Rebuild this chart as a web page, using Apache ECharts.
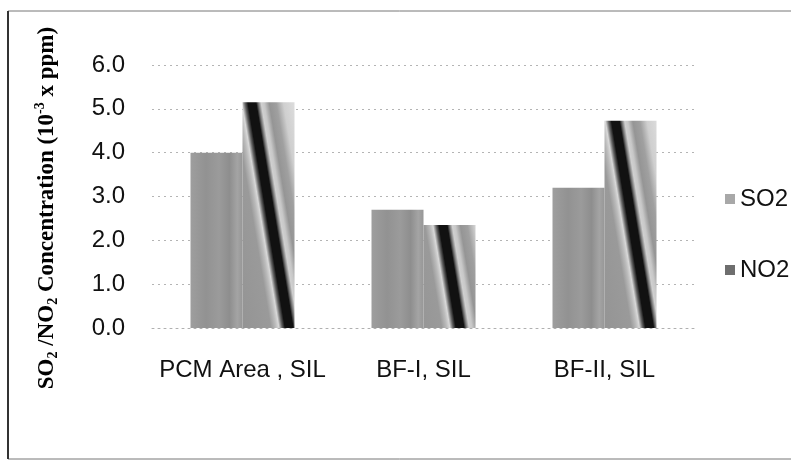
<!DOCTYPE html>
<html>
<head>
<meta charset="utf-8">
<script src="https://cdn.jsdelivr.net/npm/echarts@6/dist/echarts.min.js"></script>
<style>
html,body{margin:0;padding:0;background:#fff;}
#chart{width:791px;height:460px;}
</style>
</head>
<body>
<div id="chart"></div>
<script>
// ---- data ----
const categories = ['PCM Area , SIL', 'BF-I, SIL', 'BF-II, SIL'];
const so2 = [4.0, 2.7, 3.2];
const no2 = [5.15, 2.35, 4.73];
const seriesNames = ['SO2', 'NO2'];
const yTicks = [0, 1, 2, 3, 4, 5, 6];

// ---- layout constants ----
const gridLeft = 152, gridTop = 65, gridRight = 96, gridBottom = 132;
const chartH = 460;
const plotH = chartH - gridTop - gridBottom;
const yMax = 6;
const pxPerUnit = plotH / yMax;
const barW = 52;

const so2Fill = {
  type: 'linear', x: 0, y: 0, x2: 1, y2: 0,
  colorStops: [
    {offset: 0, color: '#9e9e9e'},
    {offset: 0.3, color: '#929292'},
    {offset: 0.55, color: '#9b9b9b'},
    {offset: 0.75, color: '#8e8e8e'},
    {offset: 0.9, color: '#a4a4a4'},
    {offset: 1, color: '#979797'}
  ]
};

function no2Fill(v) {
  const h = Math.max(v * pxPerUnit, 1), w = barW, s = 0.165;
  const len = Math.hypot(1, s);
  const ux = 1 / len, uy = -s / len, half = 50;
  const stops = [
    [-50, '#939393'], [-16, '#9a9a9a'], [-11, '#bcbcbc'], [-8, '#d8d8d8'],
    [-5, '#666666'], [-2, '#111111'], [6, '#111111'], [8, '#6a6a6a'],
    [11, '#d0d0d0'], [14, '#c8c8c8'], [19, '#959595'], [26, '#a0a0a0'],
    [33, '#cfcfcf'], [50, '#e4e4e4']
  ];
  return {
    type: 'linear',
    x: 0.5 - half * ux / w, y: 0.5 - half * uy / h,
    x2: 0.5 + half * ux / w, y2: 0.5 + half * uy / h,
    colorStops: stops.map(p => ({offset: (p[0] + half) / (2 * half), color: p[1]}))
  };
}

const chart = echarts.init(document.getElementById('chart'), null, {renderer: 'canvas'});

const titleRich = {
  m: {fontFamily: 'Liberation Serif', fontWeight: 'bold', fontSize: 23, lineHeight: 27, color: '#111'},
  s: {fontFamily: 'Liberation Serif', fontWeight: 'bold', fontSize: 14, lineHeight: 14, verticalAlign: 'bottom', color: '#111'},
  p: {fontFamily: 'Liberation Serif', fontWeight: 'bold', fontSize: 14, lineHeight: 14, verticalAlign: 'top', color: '#111'}
};

chart.setOption({
  animation: false,
  backgroundColor: '#fff',
  grid: {left: gridLeft, right: gridRight, top: gridTop, bottom: gridBottom, containLabel: false},
  legend: {
    orient: 'vertical',
    left: 720, top: 182,
    itemWidth: 10, itemHeight: 10, itemGap: 47,
    icon: 'rect',
    textStyle: {fontFamily: 'Liberation Sans', fontSize: 24, color: '#111'},
    data: [
      {name: seriesNames[0], itemStyle: {color: '#a8a8a8'}},
      {name: seriesNames[1], itemStyle: {color: '#6e6e6e'}}
    ]
  },
  xAxis: {
    type: 'category',
    data: categories,
    axisLine: {show: true, lineStyle: {color: '#b0b0b0', type: [2, 4], width: 1}},
    axisTick: {show: false},
    axisLabel: {fontFamily: 'Liberation Sans', fontSize: 24, color: '#111', margin: 30, interval: 0}
  },
  yAxis: {
    type: 'value',
    min: yTicks[0], max: yTicks[yTicks.length - 1], interval: 1,
    axisLine: {show: false},
    axisTick: {show: false},
    axisLabel: {fontFamily: 'Liberation Sans', fontSize: 24, color: '#111', margin: 27,
      formatter: v => v.toFixed(1)},
    splitLine: {show: true, lineStyle: {color: '#b4b4b4', type: [2, 4], width: 1}}
  },
  series: [
    {
      name: seriesNames[0], type: 'bar', barWidth: barW, barGap: '0%',
      itemStyle: {color: so2Fill},
      data: so2.map(v => ({value: v, itemStyle: {color: so2Fill}}))
    },
    {
      name: seriesNames[1], type: 'bar', barWidth: barW, barGap: '0%',
      itemStyle: {color: '#6e6e6e'},
      data: no2.map(v => ({value: v, itemStyle: {color: no2Fill(v)}}))
    }
  ],
  graphic: [
    {type: 'line', shape: {x1: 8, y1: 11, x2: 791, y2: 11}, style: {stroke: '#777', lineWidth: 1}, silent: true},
    {type: 'line', shape: {x1: 8, y1: 459, x2: 791, y2: 459}, style: {stroke: '#777', lineWidth: 1}, silent: true},
    {type: 'line', shape: {x1: 8, y1: 11, x2: 8, y2: 459}, style: {stroke: '#333', lineWidth: 2}, silent: true},
    {
      type: 'text', x: 47, y: 208, rotation: Math.PI / 2, silent: true,
      style: {
        text: '{m|SO}{s|2}{m| /NO}{s|2}{m| Concentration (10}{p|-3}{m| x ppm)}',
        rich: titleRich,
        align: 'center', verticalAlign: 'middle'
      }
    }
  ]
});
</script>
</body>
</html>
